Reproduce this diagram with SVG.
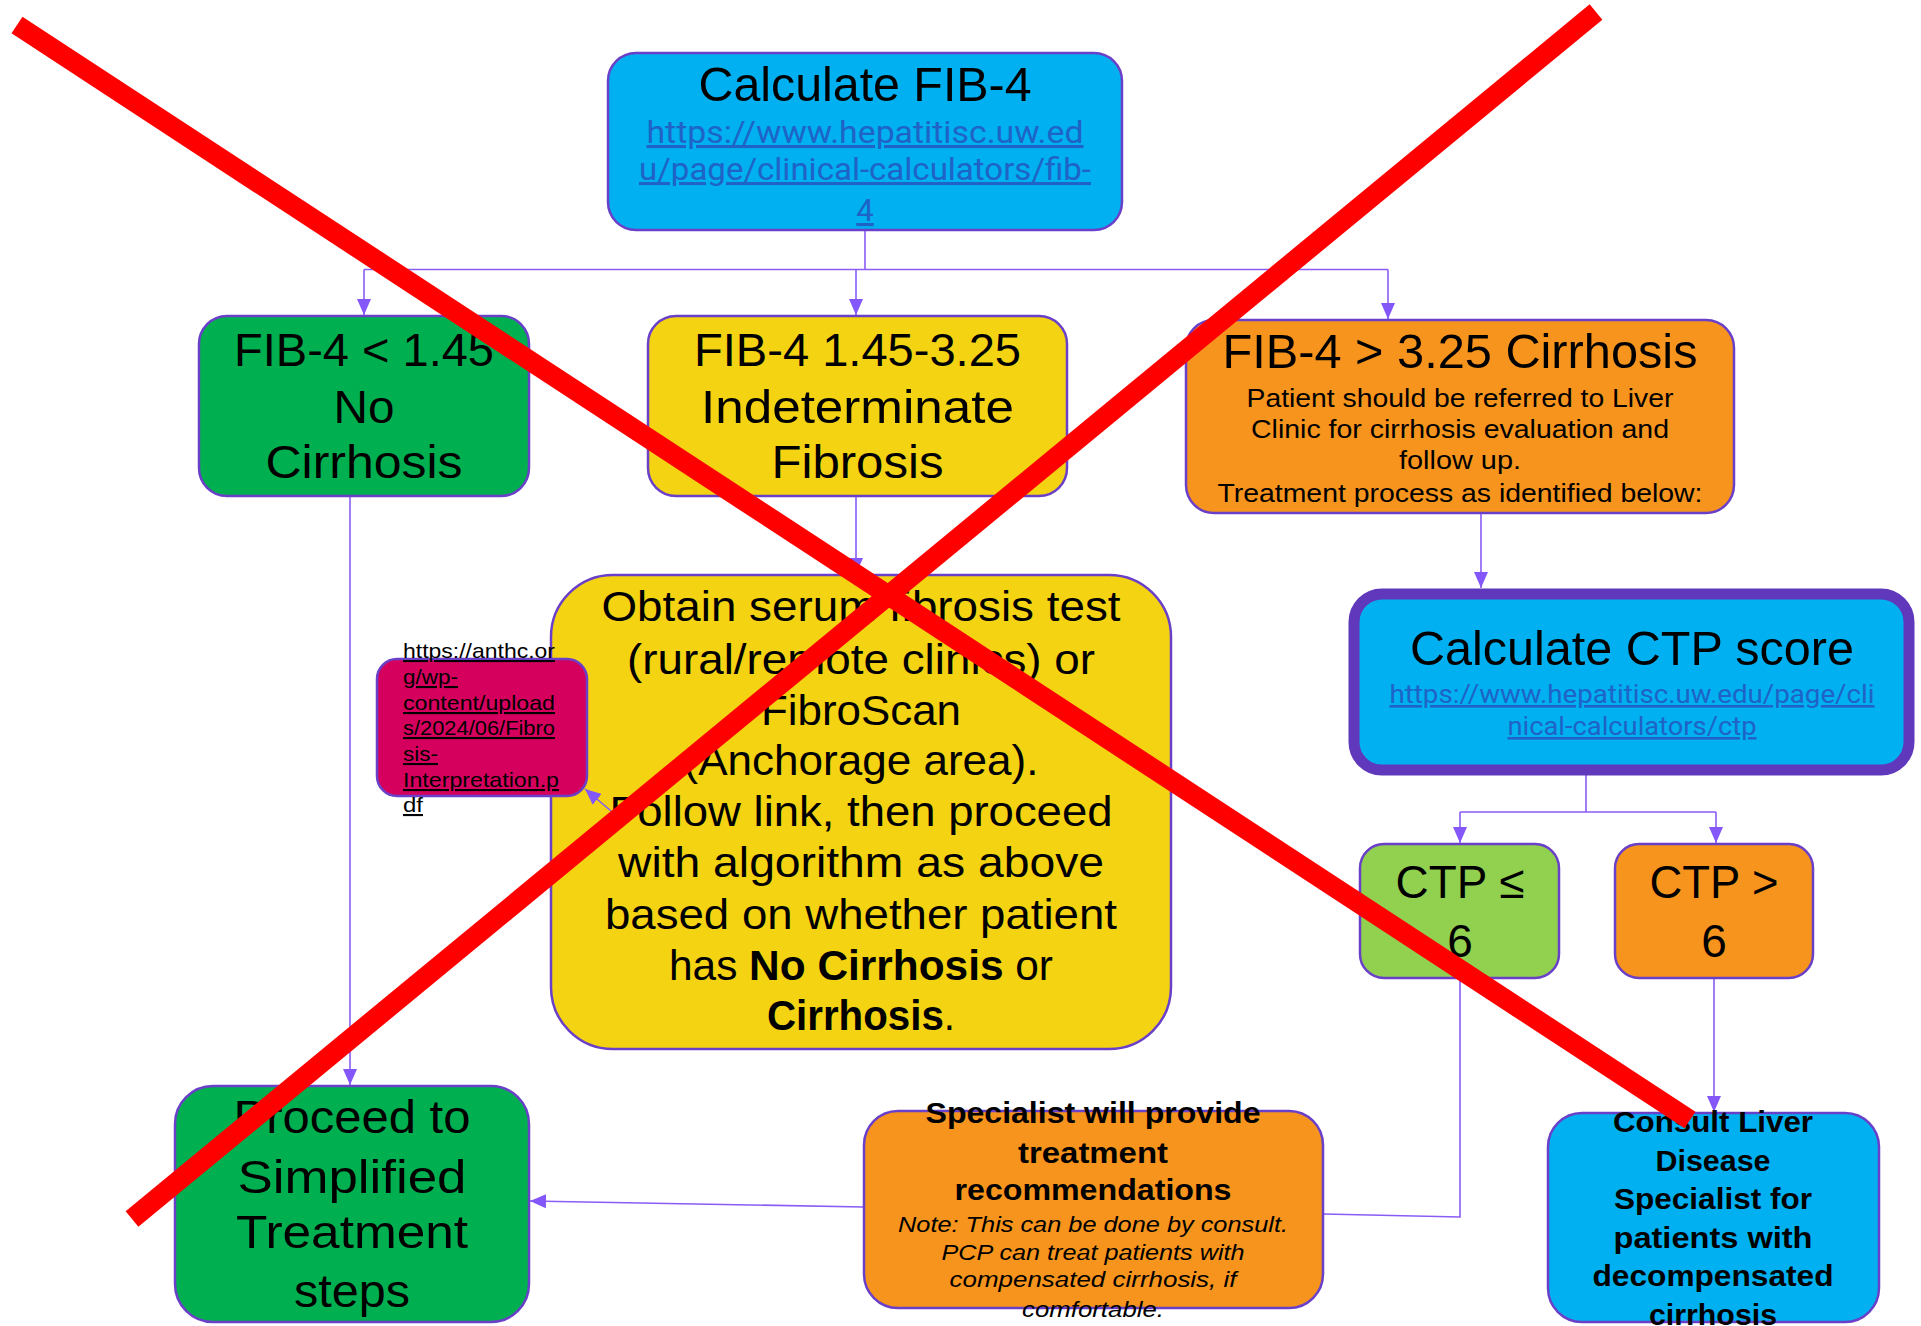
<svg xmlns="http://www.w3.org/2000/svg" width="1921" height="1326" viewBox="0 0 1921 1326">
<defs>
<marker id="arr" markerUnits="userSpaceOnUse" markerWidth="16" markerHeight="14" viewBox="0 0 16 14" refX="16" refY="7" orient="auto">
<path d="M0,0 L16,7 L0,14 z" fill="#8457FA"/>
</marker>
<style>
.box{stroke:#6A40C9;stroke-width:2.5}
.t{font-family:'Liberation Sans',Arial,sans-serif;fill:#000;text-anchor:middle}
.big{font-size:46px}
.ttl{font-size:48px}
.mid{font-size:42px}
.sm{font-size:26px}
.lnk{font-family:Roboto,'Liberation Sans',sans-serif;fill:#1F63C6;text-decoration:underline;text-anchor:middle}
.pk{font-family:'Liberation Sans',Arial,sans-serif;font-size:21px;fill:#000;text-decoration:underline}
.b{font-weight:bold}
.i{font-style:italic}
.con{fill:none;stroke:#8A5CF6;stroke-width:1.6}
.x{stroke:#FF0000;stroke-width:20;stroke-linecap:butt}
</style>
</defs>
<rect width="1921" height="1326" fill="#FFFFFF"/>

<g id="connectors">
<path class="con" d="M865,230 V269.5"/>
<path class="con" d="M364,269.5 H1388"/>
<path class="con" d="M364,269.5 V315" marker-end="url(#arr)"/>
<path class="con" d="M856,269.5 V315" marker-end="url(#arr)"/>
<path class="con" d="M1388,269.5 V319" marker-end="url(#arr)"/>
<path class="con" d="M350,496 V1085" marker-end="url(#arr)"/>
<path class="con" d="M856,496 V574" marker-end="url(#arr)"/>
<path class="con" d="M1481,513 V588" marker-end="url(#arr)"/>
<path class="con" d="M1586,775 V812"/>
<path class="con" d="M1460,812 H1716"/>
<path class="con" d="M1460,812 V843" marker-end="url(#arr)"/>
<path class="con" d="M1716,812 V843" marker-end="url(#arr)"/>
<path class="con" d="M1714,978 V1112" marker-end="url(#arr)"/>
<path class="con" d="M1460,978 V1217 L1323,1214"/>
<path class="con" d="M864,1207 L530,1201" marker-end="url(#arr)"/>
</g>

<g id="calc-fib4">
<rect class="box" x="608" y="53" width="514" height="177" rx="28" fill="#00B0F0"/>
<text class="t ttl" x="865" y="101" textLength="333" lengthAdjust="spacingAndGlyphs">Calculate FIB-4</text>
<text class="lnk" font-size="31" x="865" y="143" textLength="437" lengthAdjust="spacingAndGlyphs">https://www.hepatitisc.uw.ed</text>
<text class="lnk" font-size="31" x="865" y="180" textLength="452" lengthAdjust="spacingAndGlyphs">u/page/clinical-calculators/fib-</text>
<text class="lnk" font-size="31" x="865" y="221">4</text>
</g>

<g id="fib4-low">
<rect class="box" x="199" y="316" width="330" height="180" rx="28" fill="#00B050"/>
<text class="t big" x="364" y="366" textLength="260" lengthAdjust="spacingAndGlyphs">FIB-4 &lt; 1.45</text>
<text class="t big" x="364" y="423" textLength="61" lengthAdjust="spacingAndGlyphs">No</text>
<text class="t big" x="364" y="478" textLength="197" lengthAdjust="spacingAndGlyphs">Cirrhosis</text>
</g>

<g id="fib4-mid">
<rect class="box" x="648" y="316" width="419" height="180" rx="28" fill="#F4D313"/>
<text class="t big" x="857.5" y="366" textLength="327" lengthAdjust="spacingAndGlyphs">FIB-4 1.45-3.25</text>
<text class="t big" x="857.5" y="423" textLength="313" lengthAdjust="spacingAndGlyphs">Indeterminate</text>
<text class="t big" x="857.5" y="478" textLength="172" lengthAdjust="spacingAndGlyphs">Fibrosis</text>
</g>

<g id="fib4-high">
<rect class="box" x="1186" y="320" width="548" height="193" rx="28" fill="#F7941D"/>
<text class="t ttl" x="1460" y="368" textLength="475" lengthAdjust="spacingAndGlyphs">FIB-4 &gt; 3.25 Cirrhosis</text>
<text class="t sm" x="1460" y="407" textLength="427" lengthAdjust="spacingAndGlyphs">Patient should be referred to Liver</text>
<text class="t sm" x="1460" y="438" textLength="418" lengthAdjust="spacingAndGlyphs">Clinic for cirrhosis evaluation and</text>
<text class="t sm" x="1460" y="469" textLength="122" lengthAdjust="spacingAndGlyphs">follow up.</text>
<text class="t sm" x="1460" y="502" textLength="485" lengthAdjust="spacingAndGlyphs">Treatment process as identified below:</text>
</g>

<g id="obtain-test">
<rect class="box" x="551" y="575" width="620" height="474" rx="62" fill="#F4D313"/>
<text class="t mid" x="861" y="621" textLength="519" lengthAdjust="spacingAndGlyphs">Obtain serum fibrosis test</text>
<text class="t mid" x="861" y="674" textLength="468" lengthAdjust="spacingAndGlyphs">(rural/remote clinics) or</text>
<text class="t mid" x="861" y="725" textLength="200" lengthAdjust="spacingAndGlyphs">FibroScan</text>
<text class="t mid" x="861" y="775" textLength="355" lengthAdjust="spacingAndGlyphs">(Anchorage area).</text>
<text class="t mid" x="861" y="826" textLength="503" lengthAdjust="spacingAndGlyphs">Follow link, then proceed</text>
<text class="t mid" x="861" y="877" textLength="486" lengthAdjust="spacingAndGlyphs">with algorithm as above</text>
<text class="t mid" x="861" y="929" textLength="512" lengthAdjust="spacingAndGlyphs">based on whether patient</text>
<text class="t mid" x="861" y="980" textLength="384" lengthAdjust="spacingAndGlyphs">has <tspan class="b">No Cirrhosis</tspan> or</text>
<text class="t mid" x="861" y="1030" textLength="188" lengthAdjust="spacingAndGlyphs"><tspan class="b">Cirrhosis</tspan>.</text>
</g>

<g id="fibrosis-link">
<rect class="box" x="377" y="659" width="210" height="137" rx="20" fill="#D5005E"/>
<text class="pk" x="403" y="658" textLength="152" lengthAdjust="spacingAndGlyphs">https://anthc.or</text>
<text class="pk" x="403" y="684" textLength="55" lengthAdjust="spacingAndGlyphs">g/wp-</text>
<text class="pk" x="403" y="710" textLength="152" lengthAdjust="spacingAndGlyphs">content/upload</text>
<text class="pk" x="403" y="735" textLength="152" lengthAdjust="spacingAndGlyphs">s/2024/06/Fibro</text>
<text class="pk" x="403" y="761" textLength="35" lengthAdjust="spacingAndGlyphs">sis-</text>
<text class="pk" x="403" y="787" textLength="156" lengthAdjust="spacingAndGlyphs">Interpretation.p</text>
<text class="pk" x="403" y="812" textLength="20" lengthAdjust="spacingAndGlyphs">df</text>
</g>

<g id="calc-ctp">
<rect x="1354" y="594" width="555" height="176" rx="28" fill="#00B0F0" stroke="#5F38BB" stroke-width="11"/>
<text class="t ttl" x="1632" y="665" textLength="444" lengthAdjust="spacingAndGlyphs">Calculate CTP score</text>
<text class="lnk" font-size="26" x="1632" y="703" textLength="485" lengthAdjust="spacingAndGlyphs">https://www.hepatitisc.uw.edu/page/cli</text>
<text class="lnk" font-size="26" x="1632" y="735" textLength="249" lengthAdjust="spacingAndGlyphs">nical-calculators/ctp</text>
</g>

<g id="ctp-low">
<rect class="box" x="1360" y="844" width="199" height="134" rx="24" fill="#92D050"/>
<text class="t big" x="1460" y="898" textLength="129" lengthAdjust="spacingAndGlyphs">CTP ≤</text>
<text class="t big" x="1460" y="957">6</text>
</g>

<g id="ctp-high">
<rect class="box" x="1615" y="844" width="198" height="134" rx="24" fill="#F7941D"/>
<text class="t big" x="1714" y="898" textLength="129" lengthAdjust="spacingAndGlyphs">CTP &gt;</text>
<text class="t big" x="1714" y="957">6</text>
</g>

<g id="consult">
<rect class="box" x="1548" y="1113" width="331" height="209" rx="34" fill="#00B0F0"/>
<text class="t b" font-size="29" x="1713" y="1132" textLength="200" lengthAdjust="spacingAndGlyphs">Consult Liver</text>
<text class="t b" font-size="29" x="1713" y="1171" textLength="115" lengthAdjust="spacingAndGlyphs">Disease</text>
<text class="t b" font-size="29" x="1713" y="1209" textLength="198" lengthAdjust="spacingAndGlyphs">Specialist for</text>
<text class="t b" font-size="29" x="1713" y="1248" textLength="199" lengthAdjust="spacingAndGlyphs">patients with</text>
<text class="t b" font-size="29" x="1713" y="1286" textLength="241" lengthAdjust="spacingAndGlyphs">decompensated</text>
<text class="t b" font-size="29" x="1713" y="1325" textLength="128" lengthAdjust="spacingAndGlyphs">cirrhosis</text>
</g>

<g id="specialist">
<rect class="box" x="864" y="1111" width="459" height="197" rx="34" fill="#F7941D"/>
<text class="t b" font-size="29" x="1093" y="1123" textLength="335" lengthAdjust="spacingAndGlyphs">Specialist will provide</text>
<text class="t b" font-size="29" x="1093" y="1163" textLength="150" lengthAdjust="spacingAndGlyphs">treatment</text>
<text class="t b" font-size="29" x="1093" y="1200" textLength="277" lengthAdjust="spacingAndGlyphs">recommendations</text>
<text class="t i" font-size="22" x="1093" y="1232" textLength="390" lengthAdjust="spacingAndGlyphs">Note: This can be done by consult.</text>
<text class="t i" font-size="22" x="1093" y="1260" textLength="303" lengthAdjust="spacingAndGlyphs">PCP can treat patients with</text>
<text class="t i" font-size="22" x="1093" y="1287" textLength="287" lengthAdjust="spacingAndGlyphs">compensated cirrhosis, if</text>
<text class="t i" font-size="22" x="1093" y="1317" textLength="142" lengthAdjust="spacingAndGlyphs">comfortable.</text>
</g>

<g id="proceed">
<rect class="box" x="175" y="1086" width="354" height="236" rx="38" fill="#00B050"/>
<text class="t big" x="352" y="1133" textLength="237" lengthAdjust="spacingAndGlyphs">Proceed to</text>
<text class="t big" x="352" y="1193" textLength="229" lengthAdjust="spacingAndGlyphs">Simplified</text>
<text class="t big" x="352" y="1248" textLength="232" lengthAdjust="spacingAndGlyphs">Treatment</text>
<text class="t big" x="352" y="1307" textLength="116" lengthAdjust="spacingAndGlyphs">steps</text>
</g>

<g id="link-connector">
<path class="con" d="M611,811 L585,789" marker-end="url(#arr)"/>
</g>

<g id="cross">
<line class="x" x1="17" y1="25" x2="1690" y2="1120"/>
<line class="x" x1="1596" y1="12" x2="132" y2="1219"/>
</g>
</svg>
